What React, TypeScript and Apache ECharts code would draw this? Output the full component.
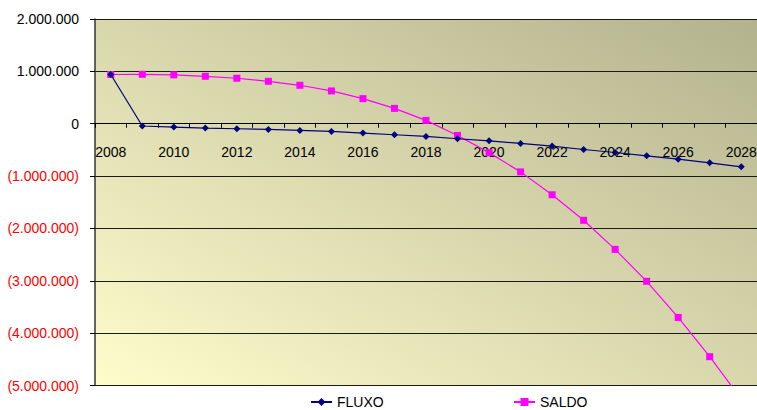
import React, { useEffect, useRef } from "react";
import * as echarts from "echarts";

const years = [
  "2008", "2009", "2010", "2011", "2012", "2013", "2014", "2015", "2016", "2017", "2018",
  "2019", "2020", "2021", "2022", "2023", "2024", "2025", "2026", "2027", "2028",
];
const fluxo = [
  940000, -44000, -64000, -83000, -96000, -109000, -128000, -147000, -179000, -211000, -243000,
  -287000, -326000, -377000, -428000, -492000, -550000, -613000, -677000, -747000, -824000,
];
const saldo = [
  940000, 944000, 933000, 906000, 868000, 810000, 734000, 626000, 479000, 293000, 63000,
  -224000, -552000, -920000, -1357000, -1845000, -2400000, -3010000, -3700000, -4450000, -5260000,
];
const yMin = -5000000;
const yMax = 2000000;
const yStep = 1000000;

const FONT = "'Liberation Sans', Arial, sans-serif";

const W = 757;
const H = 410;
const GRID_TOP = 19;
const GRID_BOTTOM = 24.5;
const gridHeight = H - GRID_TOP - GRID_BOTTOM;
// move the category axis up onto the zero line
const xAxisOffset = -gridHeight * (0 - yMin) / (yMax - yMin);

function fmt(v: number): string {
  const s = Math.abs(v)
    .toFixed(0)
    .replace(/\B(?=(\d{3})+(?!\d))/g, ".");
  return v < 0 ? "(" + s + ")" : s;
}

const legendText = { fontSize: 14, lineHeight: 14, color: "#000", fontFamily: FONT };

export default function App() {
  const ref = useRef<HTMLDivElement>(null);
  useEffect(() => {
    if (!ref.current) return;
    const chart = echarts.init(ref.current, null, { renderer: "svg" });
    chart.setOption({
      animation: false,
      textStyle: { fontFamily: FONT },
      grid: {
        left: 95,
        right: 0,
        top: GRID_TOP,
        bottom: GRID_BOTTOM,
        containLabel: false,
        outerBoundsMode: "none",
        show: true,
        borderWidth: 0,
        backgroundColor: {
          type: "linear",
          x: 0,
          y: 1,
          x2: 1,
          y2: 0,
          colorStops: [
            { offset: 0, color: "#fffccc" },
            { offset: 1, color: "#b2b28d" },
          ],
        },
      },
      legend: [
        {
          data: ["FLUXO"],
          left: 305,
          top: 390,
          padding: 5,
          itemWidth: 21,
          itemHeight: 10,
          textStyle: legendText,
        },
        {
          data: ["SALDO"],
          left: 508,
          top: 390,
          padding: 5,
          itemWidth: 21,
          itemHeight: 10,
          textStyle: legendText,
        },
      ],
      xAxis: {
        type: "category",
        data: years,
        boundaryGap: true,
        offset: xAxisOffset,
        axisLine: { show: true, onZero: false, lineStyle: { color: "#000", width: 1 } },
        axisTick: { show: true, interval: 0, length: 4, lineStyle: { color: "#000" } },
        axisLabel: {
          interval: 1,
          margin: 21,
          fontSize: 14,
          color: "#000",
          fontFamily: FONT,
        },
        splitLine: { show: false },
      },
      yAxis: {
        type: "value",
        min: yMin,
        max: yMax,
        interval: yStep,
        axisLine: { show: true, lineStyle: { color: "#333", width: 1.5 } },
        axisTick: { show: true, length: 5, lineStyle: { color: "#000" } },
        axisLabel: {
          margin: 16,
          fontSize: 14,
          fontFamily: FONT,
          formatter: (v: number) => fmt(v),
          color: (v: any) => (Number(v) < 0 ? "#ff0000" : "#000"),
        },
        splitLine: { show: true, lineStyle: { color: "#1a1a1a", width: 1 } },
      },
      series: [
        {
          name: "FLUXO",
          type: "line",
          data: fluxo,
          symbol: "diamond",
          symbolSize: 7,
          itemStyle: { color: "#000080" },
          lineStyle: { color: "#000080", width: 1.2 },
          z: 3,
        },
        {
          name: "SALDO",
          type: "line",
          data: saldo,
          symbol: "rect",
          symbolSize: 7,
          itemStyle: { color: "#ff00ff" },
          lineStyle: { color: "#ff00ff", width: 1.2 },
          clip: true,
          z: 2,
        },
      ],
    });
    return () => chart.dispose();
  }, []);
  return (
    <div
      ref={ref}
      style={{ position: "fixed", left: 0, top: 0, width: W, height: H, background: "#fff" }}
    />
  );
}
